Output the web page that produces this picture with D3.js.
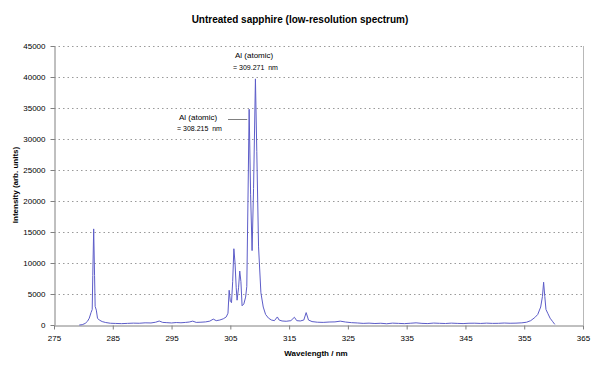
<!DOCTYPE html>
<html><head><meta charset="utf-8">
<script src="https://cdn.jsdelivr.net/npm/d3@7"></script>
<style>body{margin:0;background:#fff}svg{display:block;font-family:Arial,"Liberation Sans",sans-serif}text{white-space:pre}</style>
</head><body><svg id="c" width="600" height="369"></svg>
<script>
const title = "Untreated sapphire (low-resolution spectrum)";
const xTitle = "Wavelength / nm";
const yTitle = "Intensity (arb. units)";
const xTicks = [275,285,295,305,315,325,335,345,355,365];
const yTicks = [0,5000,10000,15000,20000,25000,30000,35000,40000,45000];
const wavelength = [279.3,279.8,280.3,280.7,281.0,281.3,281.5,281.6,281.75,281.9,282.0,282.2,282.4,282.7,283.2,283.8,284.6,285.5,286.5,287.5,288.5,289.5,290.5,291.5,292.3,292.9,293.5,294.2,295.0,295.8,296.6,297.4,298.0,298.6,299.2,300.0,300.8,301.5,302.1,302.6,303.2,303.8,304.3,304.6,304.8,305.0,305.2,305.4,305.6,305.8,306.0,306.15,306.4,306.6,306.8,307.0,307.3,307.6,307.8,308.0,308.2,308.45,308.7,308.95,309.27,309.5,309.8,310.2,310.6,311.0,311.5,312.0,312.5,313.0,313.3,313.8,314.5,315.3,315.9,316.3,316.9,317.5,317.9,318.3,318.9,319.8,320.8,321.8,322.8,323.7,324.6,325.6,326.6,327.6,328.6,329.6,330.6,331.6,332.6,333.6,334.6,335.6,336.6,337.6,338.6,339.6,340.6,341.6,342.6,343.6,344.6,345.6,346.6,347.6,348.6,349.6,350.6,351.6,352.6,353.6,354.6,355.4,356.1,356.8,357.3,357.8,358.1,358.3,358.5,358.7,359.0,359.4,359.8,360.2];
const intensity = [0,50,250,600,1100,2000,2500,8000,15500,8000,3000,2400,1100,800,550,400,280,250,220,260,300,280,350,330,450,640,420,380,330,400,360,420,480,620,420,450,500,620,950,700,800,1000,1300,1900,5600,3800,3600,7000,12300,10000,6000,4000,6000,8700,7000,3100,3400,4500,6200,20000,34800,21000,12000,22000,39700,28000,12600,5200,2900,1700,1100,800,700,1300,800,650,600,700,1250,700,650,800,2000,800,550,450,420,480,500,620,480,380,330,260,300,240,280,200,300,260,220,280,350,260,230,310,270,240,300,260,230,280,290,250,300,260,270,320,280,300,350,450,700,1200,1700,2900,4600,6900,4600,2500,1900,1100,600,100];
const annotations = [
  {label:"Al (atomic)", value:"= 309.271  nm", nm:309.271},
  {label:"Al (atomic)", value:"= 308.215  nm", nm:308.215}
];

const svg = d3.select("#c");
const m = {l:54, r:583, t:46, b:325};
const x = d3.scaleLinear().domain([275,365]).range([m.l, m.r]);
const y = d3.scaleLinear().domain([0,45000]).range([m.b, m.t]);

// gridlines
svg.append("g").selectAll("line").data(yTicks.filter(d=>d>0)).join("line")
  .attr("x1", m.l).attr("x2", m.r).attr("y1", d=>y(d)+0.5).attr("y2", d=>y(d)+0.5)
  .attr("stroke","#9a9a9a").attr("stroke-width",1).attr("stroke-dasharray","1.5,3");
// right border
svg.append("line").attr("x1",m.r+0.5).attr("x2",m.r+0.5).attr("y1",m.t).attr("y2",m.b)
  .attr("stroke","#b8b8b8");

// axes
const xAxis = d3.axisBottom(x).tickValues(xTicks).tickSize(4).tickSizeOuter(0).tickFormat(d3.format("d"));
const gx = svg.append("g").attr("transform",`translate(0,${m.b+0.5})`).call(xAxis);
const yAxis = d3.axisLeft(y).tickValues(yTicks).tickSize(4).tickSizeOuter(0).tickFormat(d3.format("d"));
const gy = svg.append("g").attr("transform",`translate(${m.l+0.5},0)`).call(yAxis);
[gx,gy].forEach(g=>{
  g.select(".domain").attr("stroke","#808080");
  g.selectAll(".tick line").attr("stroke","#808080");
  g.selectAll(".tick text").attr("fill","#000").style("font-size","8px").style("font-family","Arial, 'Liberation Sans', sans-serif");
});
gx.selectAll(".tick text").attr("dy","1.1em");
gy.selectAll(".tick text").attr("x",-9);

// line
const pts = wavelength.map((w,i)=>[w,intensity[i]]);
svg.append("path").datum(pts)
  .attr("fill","none").attr("stroke","#5c5cc8").attr("stroke-width",1)
  .attr("d", d3.line().x(d=>x(d[0])).y(d=>y(d[1])));

// titles
svg.append("text").attr("x",300).attr("y",23).attr("text-anchor","middle")
  .style("font-size","10px").style("font-weight","bold").text(title);
svg.append("text").attr("x",316).attr("y",356).attr("text-anchor","middle")
  .style("font-size","8px").style("font-weight","bold").text(xTitle);
svg.append("text").attr("transform","translate(18,185) rotate(-90)").attr("text-anchor","middle")
  .style("font-size","8px").style("font-weight","bold").text(yTitle);

// annotations
const a0 = annotations[0], a1 = annotations[1];
svg.append("text").attr("x",235).attr("y",58).style("font-size","8px").text(a0.label);
svg.append("text").attr("x",233).attr("y",70).style("font-size","7px").text(a0.value);
svg.append("text").attr("x",179).attr("y",120).style("font-size","8px").text(a1.label);
svg.append("text").attr("x",177).attr("y",131).style("font-size","7px").text(a1.value);
svg.append("line").attr("x1",228).attr("x2",x(a1.nm)-2).attr("y1",119.5).attr("y2",119.5)
  .attr("stroke","#808080").attr("stroke-width",1);
</script></body></html>
